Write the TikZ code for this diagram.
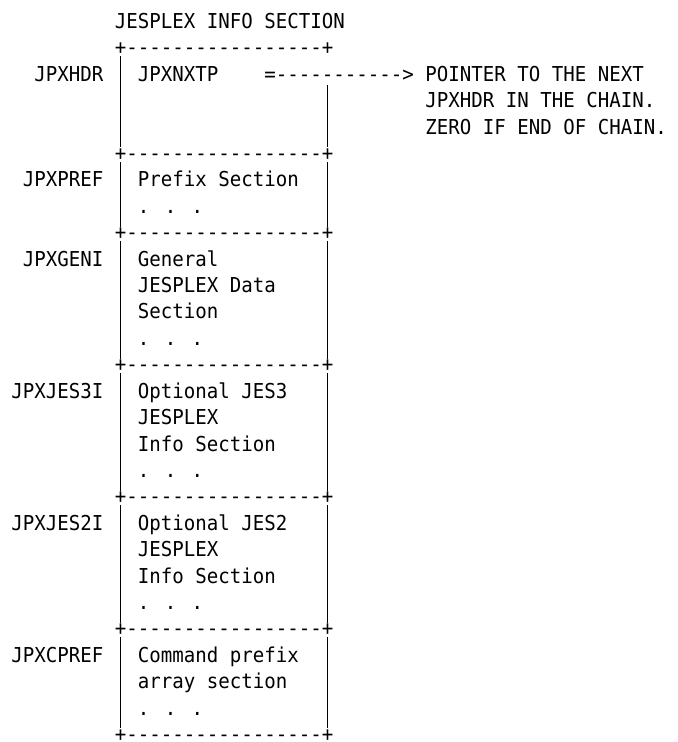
\documentclass[tikz,border=0pt]{standalone}
\usepackage{fontspec}
\newfontfamily\asciifont{DejaVu Sans Mono}[Ligatures=TeXOff, FakeStretch=0.93]
\usepackage{tikz}
\tikzset{txt/.style={font=\asciifont\fontsize{15.4pt}{18pt}\selectfont, anchor=base west, inner sep=0, outer sep=0}}
\tikzset{bar/.style={black, line width=1pt}}

\begin{document}
\begin{tikzpicture}[x=8.625pt, y=-19.81pt]
\useasboundingbox (-1,-0.079) rectangle (57.96,28.02);
\node[txt] (title) at (9,1) {JESPLEX INFO SECTION};
\foreach \r in {2,6,9,14,19,24,28} \node[txt] (edge\r) at (9,\r) {+-----------------+};
\node[txt] (hdr) at (2,3) {JPXHDR};
\node[txt] (nxtp) at (11,3) {JPXNXTP};
\node[txt] (ptr) at (22,3) {=----------->};
\node[txt] (note1) at (36,3) {POINTER TO THE NEXT};
\node[txt] (note2) at (36,4) {JPXHDR IN THE CHAIN.};
\node[txt] (note3) at (36,5) {ZERO IF END OF CHAIN.};
\node[txt] (pref) at (1,7) {JPXPREF};
\node[txt] (pref1) at (11,7) {Prefix Section};
\node[txt] (pref2) at (11,8) {. . .};
\node[txt] (geni) at (1,10) {JPXGENI};
\node[txt] (geni1) at (11,10) {General};
\node[txt] (geni2) at (11,11) {JESPLEX Data};
\node[txt] (geni3) at (11,12) {Section};
\node[txt] (geni4) at (11,13) {. . .};
\node[txt] (jesthree) at (0,15) {JPXJES3I};
\node[txt] (jesthree1) at (11,15) {Optional JES3};
\node[txt] (jesthree2) at (11,16) {JESPLEX};
\node[txt] (jesthree3) at (11,17) {Info Section};
\node[txt] (jesthree4) at (11,18) {. . .};
\node[txt] (jestwo) at (0,20) {JPXJES2I};
\node[txt] (jestwo1) at (11,20) {Optional JES2};
\node[txt] (jestwo2) at (11,21) {JESPLEX};
\node[txt] (jestwo3) at (11,22) {Info Section};
\node[txt] (jestwo4) at (11,23) {. . .};
\node[txt] (cpref) at (0,25) {JPXCPREF};
\node[txt] (cpref1) at (11,25) {Command prefix};
\node[txt] (cpref2) at (11,26) {array section};
\node[txt] (cpref3) at (11,27) {. . .};
\foreach \a/\b in {2/6,6/9,9/14,14/19,19/24,24/28} \draw[bar] (9.5,\a+0.05) -- (9.5,\b-0.5);
\foreach \a/\b in {3.15/6,6.05/9,9.05/14,14.05/19,19.05/24,24.05/28} \draw[bar] (27.5,\a) -- (27.5,\b-0.5);
\end{tikzpicture}
\end{document}
